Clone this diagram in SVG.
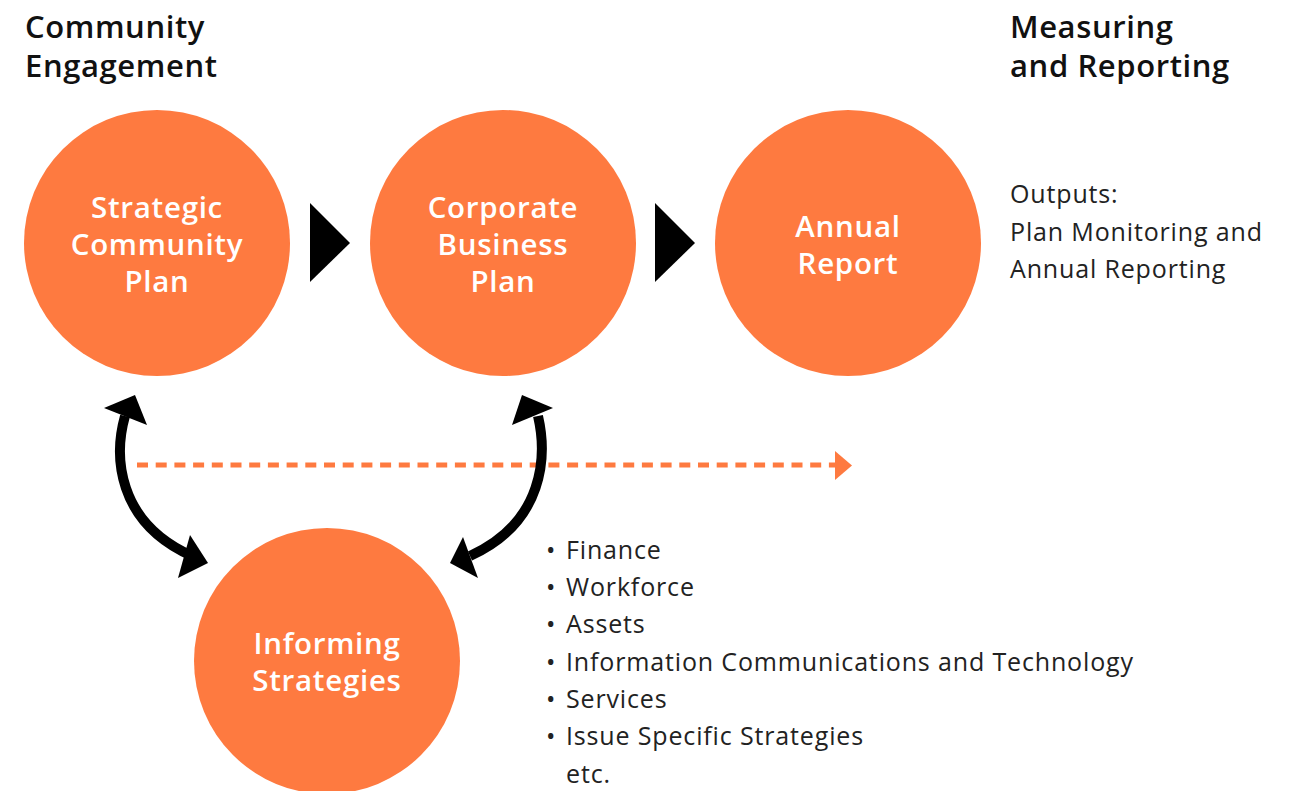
<svg xmlns="http://www.w3.org/2000/svg" width="1297" height="791" viewBox="0 0 1297 791">
<style>
.c{fill:#FE7A40}
.ct{font-family:"Open Sans","Noto Sans",sans-serif;font-weight:600;font-size:29.5px;letter-spacing:0.7px;fill:#fff;text-anchor:middle}
.h{font-family:"Open Sans","Noto Sans",sans-serif;font-weight:600;font-size:31px;letter-spacing:0.6px;fill:#111}
.t{font-family:"Open Sans","Noto Sans",sans-serif;font-size:25px;letter-spacing:0.85px;fill:#222}
.k{fill:#000}
</style>
<rect width="1297" height="791" fill="#fff"/>
<g id="title-left"><text class="h" x="25" y="38">Community</text><text class="h" x="25" y="77">Engagement</text></g>
<g id="title-right"><text class="h" x="1010" y="38">Measuring</text><text class="h" x="1010" y="77">and Reporting</text></g>
<g id="connectors">
<polygon class="k" points="310,203 350,243 310,282"/>
<polygon class="k" points="655,203 695,243 655,282"/>
<line x1="137" y1="465" x2="838" y2="465" stroke="#FE7A40" stroke-width="5" stroke-dasharray="11,7.7"/>
<polygon fill="#FE7A40" points="835,451 852,465.5 835,480"/>
<path d="M125,416 C114,455 116,522 192,556" fill="none" stroke="#000" stroke-width="10"/>
<polygon class="k" points="135,395 104,408 147,425"/>
<polygon class="k" points="208,563 190,535 178,578"/>
<path d="M538,416 C547,455 545,522 470,556" fill="none" stroke="#000" stroke-width="10"/>
<polygon class="k" points="522,395 512,425 553,408"/>
<polygon class="k" points="450,563 463,537 478,578"/>
</g>
<g id="scp"><circle class="c" cx="157" cy="243" r="133"/><text class="ct" x="157" y="218">Strategic</text><text class="ct" x="157" y="255">Community</text><text class="ct" x="157" y="292">Plan</text></g>
<g id="cbp"><circle class="c" cx="503" cy="243" r="133"/><text class="ct" x="503" y="218">Corporate</text><text class="ct" x="503" y="255">Business</text><text class="ct" x="503" y="292">Plan</text></g>
<g id="ar"><circle class="c" cx="848" cy="243" r="133"/><text class="ct" x="848" y="237">Annual</text><text class="ct" x="848" y="274">Report</text></g>
<g id="is"><circle class="c" cx="327" cy="661" r="133"/><text class="ct" x="327" y="654">Informing</text><text class="ct" x="327" y="691">Strategies</text></g>
<g id="outputs"><text class="t" x="1010" y="203">Outputs:</text><text class="t" x="1010" y="241">Plan Monitoring and</text><text class="t" x="1010" y="278">Annual Reporting</text></g>
<g id="list">
<text class="t" x="546" y="559">•</text><text class="t" x="566" y="559">Finance</text>
<text class="t" x="546" y="596">•</text><text class="t" x="566" y="596">Workforce</text>
<text class="t" x="546" y="633">•</text><text class="t" x="566" y="633">Assets</text>
<text class="t" x="546" y="671">•</text><text class="t" x="566" y="671">Information Communications and Technology</text>
<text class="t" x="546" y="708">•</text><text class="t" x="566" y="708">Services</text>
<text class="t" x="546" y="745">•</text><text class="t" x="566" y="745">Issue Specific Strategies</text>
<text class="t" x="566" y="783">etc.</text>
</g>
</svg>
